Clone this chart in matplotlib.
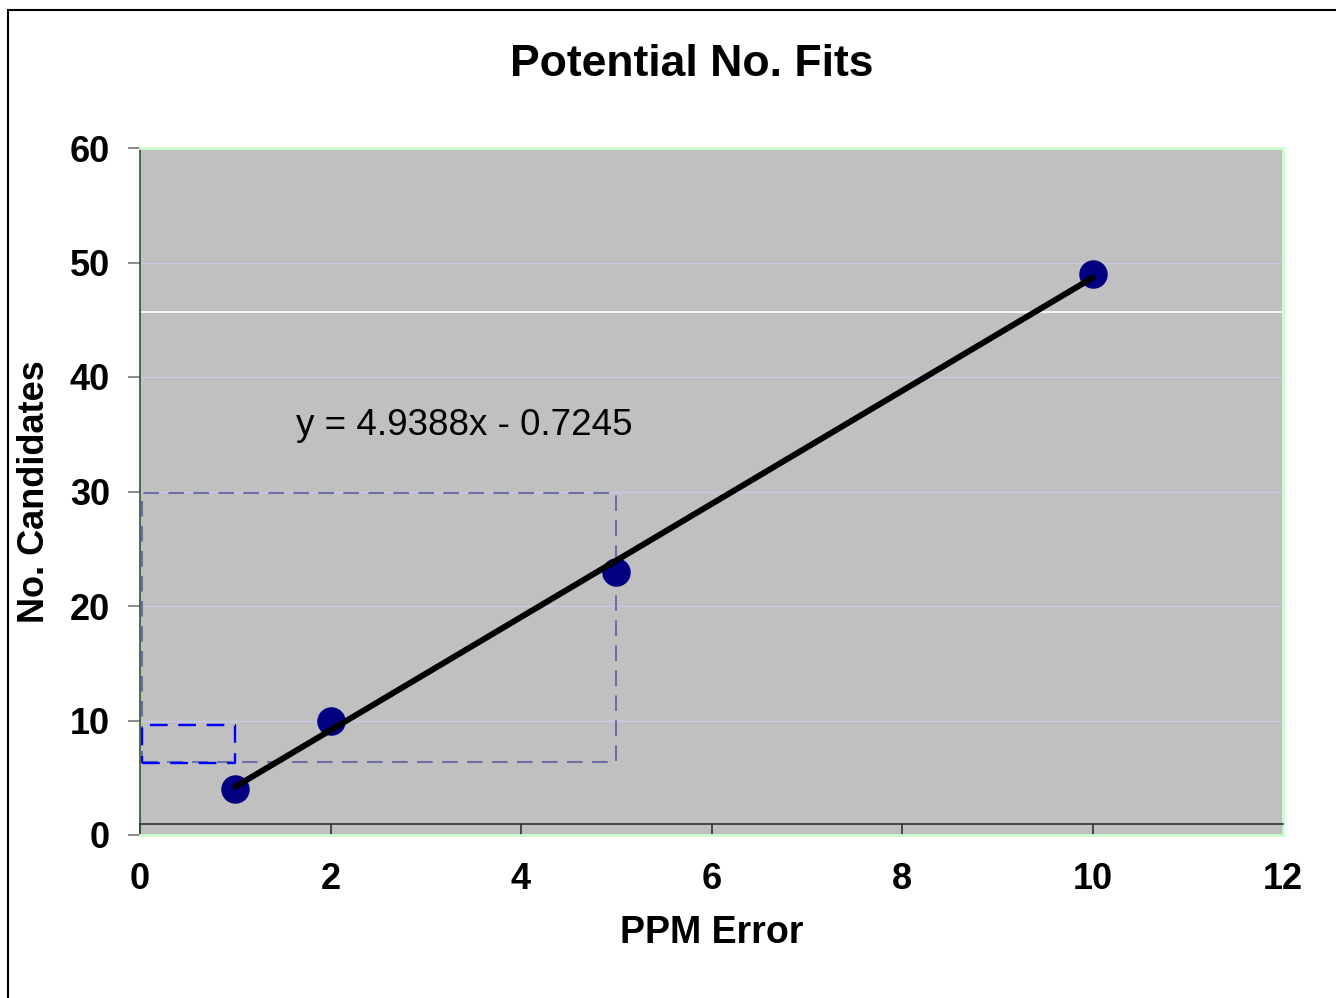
import matplotlib
matplotlib.use("Agg")
import matplotlib.pyplot as plt
import matplotlib.transforms as mtransforms
from matplotlib.patches import Rectangle
import numpy as np

# Data
ppm_error = [1, 2, 5, 10]
candidates = [4, 10, 23, 49]
x_ticks = [0, 2, 4, 6, 8, 10, 12]
y_ticks = [0, 10, 20, 30, 40, 50, 60]

# Linear trendline fitted to the points
slope, intercept = np.polyfit(ppm_error, candidates, 1)
equation = f"y = {slope:.4f}x - {abs(intercept):.4f}"

# Highlighted regions (x0, x1, y0, y1)
wide_box = (0.02, 5.0, 6.4, 29.85)
narrow_box = (0.02, 1.0, 6.25, 9.65)

plt.rcParams["font.family"] = ["Liberation Sans", "DejaVu Sans"]

fig = plt.figure(figsize=(13.36, 9.98), dpi=100)
ax = fig.add_axes([140 / 1336, 1 - 835 / 998, 1143 / 1336, 687 / 998])

ax.set_facecolor("#C0C0C0")
ax.set_xlim(0, 12)
ax.set_ylim(0, 60)

# Gridlines
for yv in y_ticks[1:-1]:
    ax.axhline(yv, color="#C8C8E8", lw=1.0, zorder=1)
ax.axhline(45.7, color="white", lw=1.2, zorder=1)

# Dashed highlight boxes
x0, x1, y0, y1 = wide_box
ax.plot([x0, x1, x1, x0, x0], [y0, y0, y1, y1, y0], color="#6E6EA8",
        lw=1.5, ls=(0, (7.5, 4.5)), zorder=2)
x0, x1, y0, y1 = narrow_box
ax.plot([x0, x1, x1, x0, x0], [y0, y0, y1, y1, y0], color="#0000FF",
        lw=1.7, ls=(0, (7.5, 4.5)), zorder=2)

# Points and trendline
ax.plot(ppm_error, candidates, "o", color="#000080", ms=19.5, zorder=3)
xs = np.array([min(ppm_error), max(ppm_error)])
ax.plot(xs, slope * xs + intercept, color="black", lw=4.3,
        solid_capstyle="round", zorder=4)

ax.text(1.64, 35.8, equation, fontsize=26.5, va="center", ha="left", zorder=5)

# Spines and ticks
for side in ["top", "right", "bottom"]:
    ax.spines[side].set_color("#CCFFCC")
    ax.spines[side].set_linewidth(2.0)
ax.spines["left"].set_color("#335533")
ax.spines["left"].set_linewidth(1.2)

ax.set_xticks(x_ticks)
ax.set_yticks(y_ticks)
ax.set_xticklabels([str(v) for v in x_ticks], fontsize=26, fontweight="bold")
ax.set_yticklabels([str(v) for v in y_ticks], fontsize=26, fontweight="bold")
ax.tick_params(axis="x", direction="in", length=8, width=1.2, color="#333333",
               pad=19.5)
ax.tick_params(axis="y", direction="out", length=8.5, width=1.2,
               color="#777777", pad=13)

# Category axis line sitting on top of the inward x ticks
axis_line_tr = mtransforms.offset_copy(ax.transAxes, fig=fig, x=0, y=8,
                                       units="points")
ax.plot([0, 1], [0, 0], color="#333333", lw=1.2, transform=axis_line_tr,
        clip_on=False, zorder=5)

ax.set_xlabel("PPM Error", fontsize=27, fontweight="bold", labelpad=13)
ax.set_ylabel("No. Candidates", fontsize=26, fontweight="bold", labelpad=13)
fig.text(692 / 1336, 1 - 64 / 998, "Potential No. Fits", fontsize=32,
         fontweight="bold", ha="center", va="center")

# Chart frame
fig.patches.append(Rectangle((8 / 1336, -0.01), 1.02, 1 - 10 / 998 + 0.01,
                             transform=fig.transFigure, fill=False,
                             edgecolor="black", lw=1.5))

fig.savefig("out.png", dpi=100)
